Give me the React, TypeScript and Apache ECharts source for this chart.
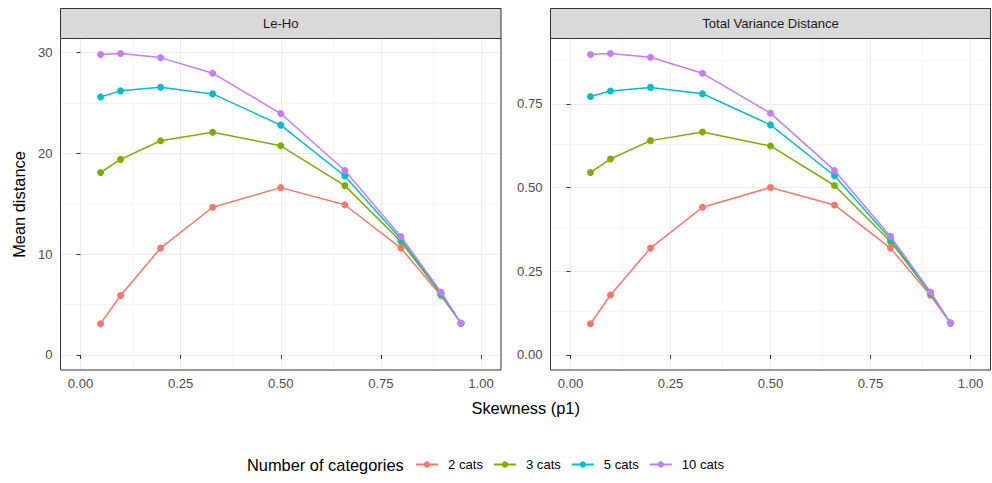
import React, { useEffect, useRef } from "react";
import * as echarts from "echarts";

const skew = [0.05, 0.1, 0.2, 0.33, 0.5, 0.66, 0.8, 0.9, 0.95];
const catNames = ["2 cats", "3 cats", "5 cats", "10 cats"];
const catColors = ["#F8766D", "#7CAE00", "#00BFC4", "#C77CFF"];
const panelTitles = ["Le-Ho", "Total Variance Distance"];

const leho2 = [3.1, 5.9, 10.6, 14.65, 16.6, 14.9, 10.6, 5.9, 3.15];
const leho3 = [18.1, 19.4, 21.25, 22.1, 20.75, 16.8, 11.25, 6.05, 3.15];
const leho5 = [25.6, 26.2, 26.55, 25.9, 22.8, 17.75, 11.5, 6.1, 3.15];
const leho10 = [29.8, 29.9, 29.5, 27.95, 23.95, 18.3, 11.75, 6.25, 3.15];

const tvd2 = [0.093, 0.179, 0.319, 0.441, 0.5, 0.448, 0.319, 0.178, 0.095];
const tvd3 = [0.545, 0.585, 0.64, 0.666, 0.624, 0.506, 0.339, 0.183, 0.095];
const tvd5 = [0.772, 0.788, 0.799, 0.78, 0.687, 0.535, 0.346, 0.185, 0.095];
const tvd10 = [0.897, 0.9, 0.889, 0.841, 0.722, 0.551, 0.354, 0.188, 0.095];

const xMajor = [0, 0.25, 0.5, 0.75, 1];
const xMinor = [0.125, 0.375, 0.625, 0.875];
const yMajorLeft = [0, 10, 20, 30];
const yMinorLeft = [5, 15, 25];
const yMajorRight = [0, 0.25, 0.5, 0.75];
const yMinorRight = [0.125, 0.375, 0.625, 0.875];

const panels = [
  { title: panelTitles[0], series: [leho2, leho3, leho5, leho10], yMajor: yMajorLeft, yMinor: yMinorLeft, fmt: (v: number) => String(v) },
  { title: panelTitles[1], series: [tvd2, tvd3, tvd5, tvd10], yMajor: yMajorRight, yMinor: yMinorRight, fmt: (v: number) => v.toFixed(2) },
];

const FONT = "Liberation Sans, Arial, sans-serif";
const SMALL = 13.1;
const BIG = 16.4;

export default function App() {
  const ref = useRef<HTMLDivElement>(null);
  useEffect(() => {
    if (!ref.current) return;
    const chart = echarts.init(ref.current, null, { renderer: "svg" });
    const gridPos = [
      { left: 60.5, top: 38.5, width: 440.5, height: 331.5 },
      { left: 550.5, top: 38.5, width: 440, height: 331.5 },
    ];
    const grids: any[] = [];
    const xAxes: any[] = [];
    const yAxes: any[] = [];
    const series: any[] = [];
    const graphics: any[] = [];
    panels.forEach((p, pi) => {
      const g = gridPos[pi];
      grids.push({
        ...g,
        show: true,
        backgroundColor: "transparent",
        borderColor: "#333333",
        borderWidth: 1,
        z: 10,
        containLabel: false,
      });
      xAxes.push({
        type: "value",
        gridIndex: pi,
        min: -0.05,
        max: 1.05,
        axisLine: { show: false },
        axisTick: { show: true, length: 4, customValues: xMajor, lineStyle: { color: "#333333", width: 1 } },
        axisLabel: {
          customValues: xMajor,
          formatter: (v: number) => v.toFixed(2),
          color: "#4D4D4D",
          fontSize: SMALL,
          fontFamily: FONT,
          margin: 7,
        },
        splitLine: { show: false },
        z: 11,
      });
      const allVals = p.series.flat();
      const ymax = Math.max(...allVals);
      yAxes.push({
        type: "value",
        gridIndex: pi,
        min: -0.05 * ymax,
        max: ymax * 1.05,
        axisLine: { show: false },
        axisTick: { show: true, length: 4, customValues: p.yMajor, lineStyle: { color: "#333333", width: 1 } },
        axisLabel: {
          customValues: p.yMajor,
          formatter: p.fmt,
          color: "#4D4D4D",
          fontSize: SMALL,
          fontFamily: FONT,
          margin: 8,
        },
        splitLine: { show: false },
        z: 11,
      });
      const major = { color: "#EBEBEB", width: 1.1, type: "solid" };
      const minor = { color: "#F2F2F2", width: 0.6, type: "solid" };
      series.push({
        type: "line",
        name: "grid" + pi,
        xAxisIndex: pi,
        yAxisIndex: pi,
        data: [],
        silent: true,
        z: 1,
        markLine: {
          silent: true,
          z: 1,
          symbol: ["none", "none"],
          label: { show: false },
          emphasis: { disabled: true },
          animation: false,
          data: [
            ...xMinor.map((v) => ({ xAxis: v, lineStyle: minor })),
            ...p.yMinor.map((v) => ({ yAxis: v, lineStyle: minor })),
            ...xMajor.map((v) => ({ xAxis: v, lineStyle: major })),
            ...p.yMajor.map((v) => ({ yAxis: v, lineStyle: major })),
          ],
        },
      });
      p.series.forEach((vals, ci) => {
        series.push({
          type: "line",
          name: catNames[ci],
          xAxisIndex: pi,
          yAxisIndex: pi,
          data: skew.map((x, j) => [x, vals[j]]),
          symbol: "circle",
          symbolSize: 7,
          showSymbol: true,
          lineStyle: { color: catColors[ci], width: 1.5 },
          itemStyle: { color: catColors[ci] },
          z: 3 + ci,
          emphasis: { disabled: true },
        });
      });
      graphics.push({
        type: "rect",
        shape: { x: g.left, y: 8.5, width: g.width, height: 30 },
        style: { fill: "#D9D9D9", stroke: "#333333", lineWidth: 1 },
        z: 12,
      });
      graphics.push({
        type: "text",
        x: g.left + g.width / 2,
        y: 23.5,
        style: {
          text: p.title,
          fill: "#1A1A1A",
          font: `${SMALL}px ${FONT}`,
          align: "center",
          verticalAlign: "middle",
        },
        z: 13,
      });
    });
    graphics.push({
      type: "text",
      x: 19,
      y: 204.5,
      rotation: Math.PI / 2,
      style: {
        text: "Mean distance",
        fill: "#000000",
        font: `${BIG}px ${FONT}`,
        align: "center",
        verticalAlign: "middle",
      },
    });
    graphics.push({
      type: "text",
      x: 525.7,
      y: 408,
      style: {
        text: "Skewness (p1)",
        fill: "#000000",
        font: `${BIG}px ${FONT}`,
        align: "center",
        verticalAlign: "middle",
      },
    });
    graphics.push({
      type: "text",
      x: 247,
      y: 465,
      style: {
        text: "Number of categories",
        fill: "#000000",
        font: `${BIG}px ${FONT}`,
        align: "left",
        verticalAlign: "middle",
      },
    });
    chart.setOption({
      animation: false,
      grid: grids,
      xAxis: xAxes,
      yAxis: yAxes,
      series,
      graphic: graphics,
      legend: {
        data: catNames,
        left: 415,
        top: 458,
        itemWidth: 22,
        itemHeight: 8,
        itemGap: 10,
        padding: 0,
        selectedMode: false,
        textStyle: { color: "#000000", fontSize: SMALL, fontFamily: FONT, padding: [0, 0, 0, 5] },
      },
    });
    return () => chart.dispose();
  }, []);
  return (
    <div
      ref={ref}
      style={{ position: "absolute", left: 0, top: 0, width: 992, height: 483, background: "#FFFFFF" }}
    />
  );
}
